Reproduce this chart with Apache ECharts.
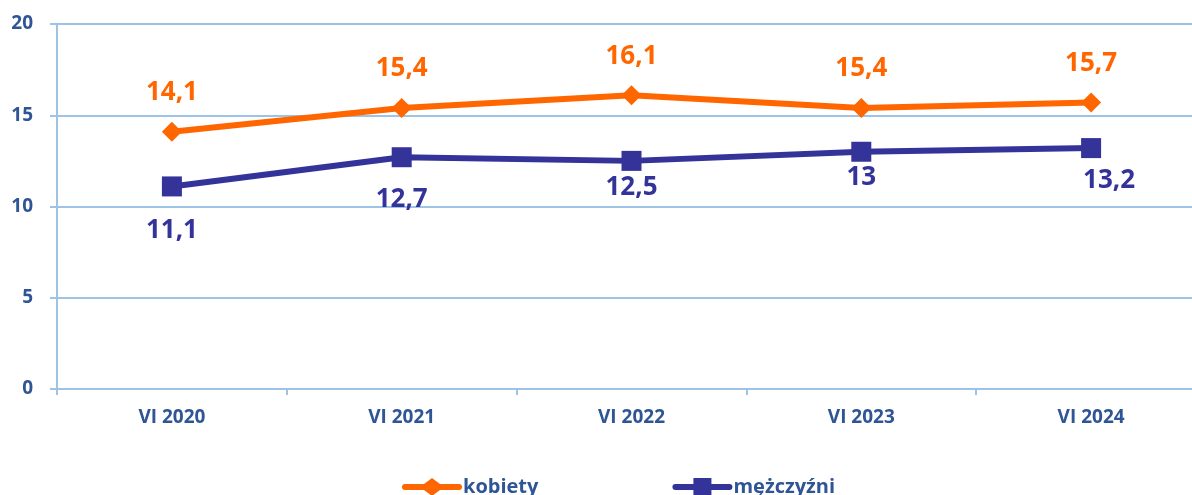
<!DOCTYPE html>
<html>
<head>
<meta charset="utf-8">
<script src="https://cdn.jsdelivr.net/npm/echarts@6/dist/echarts.min.js"></script>
<style>
html, body { margin: 0; padding: 0; background: #fff; overflow: hidden; }
#chart { width: 1206px; height: 495px; }
</style>
</head>
<body>
<div id="chart"></div>
<script>
var categories = ['VI 2020', 'VI 2021', 'VI 2022', 'VI 2023', 'VI 2024'];
var kobiety = [14.1, 15.4, 16.1, 15.4, 15.7];
var mezczyzni = [11.1, 12.7, 12.5, 13, 13.2];
var yTicks = [0, 5, 10, 15, 20];

// label placement for the lower series (distance below marker, x shift)
var menLabelDist = [21, 19, 4, 3, 9];
var menLabelShift = [0, 0, 0, 0, 18];

var axisBlue = '#2F5597';
var gridBlue = '#9DC3E6';
var orange = '#FF6600';
var navy = '#333399';
var font = '"Open Sans", "Noto Sans", sans-serif';

function fmt(v) {
	return String(v).replace('.', ',');
}

var myChart = echarts.init(document.getElementById('chart'));
var options = {
	animation: false,
	textStyle: { fontFamily: font },
	grid: { left: 57, top: 24, right: 0, height: 365 },
	legend: {
		top: 472,
		left: 397,
		itemGap: 134,
		itemWidth: 60,
		itemHeight: 18,
		textStyle: { color: axisBlue, fontSize: 20, fontWeight: 'bold', fontFamily: font, padding: [0, 0, 0, -4] },
		data: [
			{ name: 'kobiety', icon: 'path://M3,6 L22,6 L30,0 L38,6 L57,6 A3,3 0 0 1 57,12 L38,12 L30,18 L22,12 L3,12 A3,3 0 0 1 3,6 Z' },
			{ name: 'mężczyźni', icon: 'path://M3,6 L21,6 L21,0 L39,0 L39,6 L57,6 A3,3 0 0 1 57,12 L39,12 L39,18 L21,18 L21,12 L3,12 A3,3 0 0 1 3,6 Z' }
		]
	},
	xAxis: {
		type: 'category',
		data: categories,
		boundaryGap: true,
		axisLine: { show: true, lineStyle: { color: gridBlue, width: 2 } },
		axisTick: { show: true, length: 6, lineStyle: { color: gridBlue, width: 2 } },
		axisLabel: { color: axisBlue, fontSize: 19, fontWeight: 'bold', margin: 19 },
		splitLine: { show: false }
	},
	yAxis: {
		type: 'value',
		min: yTicks[0],
		max: yTicks[yTicks.length - 1],
		interval: 5,
		axisLine: { show: true, lineStyle: { color: gridBlue, width: 2 } },
		axisTick: { show: true, length: 7, lineStyle: { color: gridBlue, width: 2 } },
		axisLabel: { color: axisBlue, fontSize: 19, fontWeight: 'bold', margin: 24 },
		splitLine: { show: true, lineStyle: { color: gridBlue, width: 2 } }
	},
	series: [{
		name: 'kobiety',
		type: 'line',
		data: kobiety,
		color: orange,
		symbol: 'diamond',
		symbolSize: 20,
		lineStyle: { width: 6, color: orange },
		itemStyle: { color: orange },
		label: {
			show: true,
			position: 'top',
			distance: 16,
			color: orange,
			fontSize: 26,
			fontWeight: 'bold',
			formatter: function(p) { return fmt(p.value); }
		}
	}, {
		name: 'mężczyźni',
		type: 'line',
		data: mezczyzni.map(function(v, i) {
			return { value: v, label: { distance: menLabelDist[i], offset: [menLabelShift[i], 0] } };
		}),
		color: navy,
		symbol: 'rect',
		symbolSize: 20,
		lineStyle: { width: 6, color: navy },
		itemStyle: { color: navy },
		label: {
			show: true,
			position: 'bottom',
			color: navy,
			fontSize: 26,
			fontWeight: 'bold',
			formatter: function(p) { return fmt(p.value); }
		}
	}]
};
myChart.setOption(options);
</script>
</body>
</html>
